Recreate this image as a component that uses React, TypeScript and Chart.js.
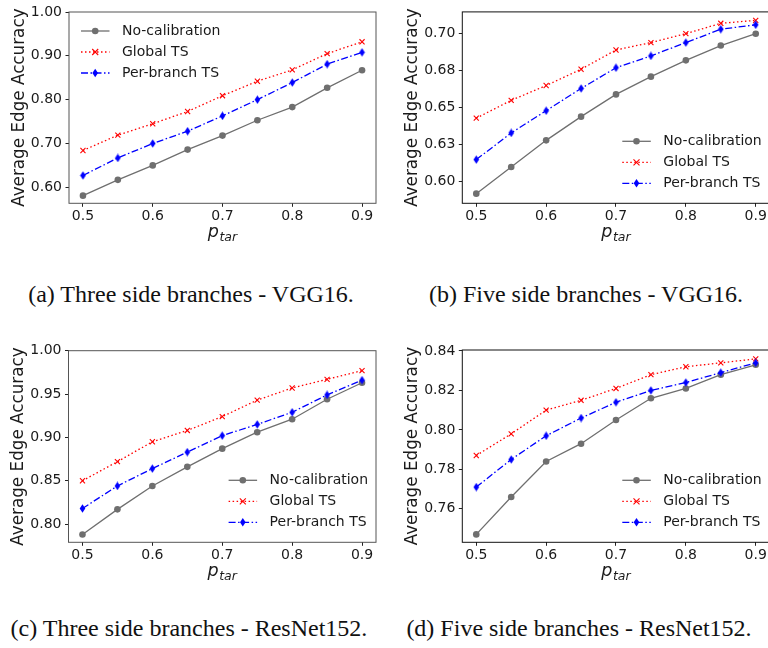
import React, { useEffect, useRef } from 'react';
import { Chart, registerables } from 'chart.js';
Chart.register(...registerables);

// ---------- data ----------
const pTar = [0.5, 0.55, 0.6, 0.65, 0.7, 0.75, 0.8, 0.85, 0.9];
const xTickValues = [0.5, 0.6, 0.7, 0.8, 0.9];
const xTickLabels = ['0.5', '0.6', '0.7', '0.8', '0.9'];
const seriesNames = ['No-calibration', 'Global TS', 'Per-branch TS'];
const yAxisTitle = 'Average Edge Accuracy';

// (a) Three side branches - VGG16
const vgg3NoCal = [0.581, 0.617, 0.650, 0.686, 0.718, 0.753, 0.783, 0.827, 0.867];
const vgg3Global = [0.684, 0.719, 0.745, 0.773, 0.809, 0.842, 0.868, 0.905, 0.932];
const vgg3PerBranch = [0.627, 0.667, 0.700, 0.728, 0.763, 0.800, 0.839, 0.881, 0.908];
const vgg3YTicks = [0.6, 0.7, 0.8, 0.9, 1.0];
const vgg3YLabels = ['0.60', '0.70', '0.80', '0.90', '1.00'];

// (b) Five side branches - VGG16
const vgg5NoCal = [0.592, 0.610, 0.628, 0.644, 0.659, 0.671, 0.682, 0.692, 0.700];
const vgg5Global = [0.643, 0.655, 0.665, 0.676, 0.689, 0.694, 0.700, 0.707, 0.709];
const vgg5PerBranch = [0.615, 0.633, 0.648, 0.663, 0.677, 0.685, 0.694, 0.703, 0.706];
const vgg5YTicks = [0.6, 0.625, 0.65, 0.675, 0.7];
const vgg5YLabels = ['0.60', '0.63', '0.65', '0.68', '0.70'];

// (c) Three side branches - ResNet152
const res3NoCal = [0.788, 0.817, 0.844, 0.866, 0.887, 0.906, 0.921, 0.944, 0.963];
const res3Global = [0.850, 0.872, 0.895, 0.908, 0.924, 0.943, 0.957, 0.967, 0.977];
const res3PerBranch = [0.818, 0.844, 0.864, 0.883, 0.902, 0.915, 0.929, 0.949, 0.966];
const res3YTicks = [0.8, 0.85, 0.9, 0.95, 1.0];
const res3YLabels = ['0.80', '0.85', '0.90', '0.95', '1.00'];

// (d) Five side branches - ResNet152
const res5NoCal = [0.747, 0.766, 0.784, 0.793, 0.805, 0.816, 0.821, 0.828, 0.833];
const res5Global = [0.787, 0.798, 0.810, 0.815, 0.821, 0.828, 0.832, 0.834, 0.836];
const res5PerBranch = [0.771, 0.785, 0.797, 0.806, 0.814, 0.820, 0.824, 0.829, 0.834];
const res5YTicks = [0.76, 0.78, 0.8, 0.82, 0.84];
const res5YLabels = ['0.76', '0.78', '0.80', '0.82', '0.84'];

const captions = [
  '(a) Three side branches - VGG16.',
  '(b) Five side branches - VGG16.',
  '(c) Three side branches - ResNet152.',
  '(d) Five side branches - ResNet152.',
];

// ---------- styling / layout ----------
const GREY = '#6f6f6f';
const RED = '#ff0000';
const BLUE = '#0000ff';
const TEXT = '#1a1a1a';
const SANS = '"DejaVu Sans", sans-serif';

type Panel = {
  left: number; top: number; width: number; height: number;
  area: { l: number; t: number; r: number; b: number };
  yMin: number; yMax: number; yTicks: number[]; yLabels: string[];
  series: number[][]; legend: 'ul' | 'lr'; frame: string;
};

const panels: Panel[] = [
  { left: 0, top: 0, width: 384, height: 260, area: { l: 69, t: 12, r: 376, b: 203.3 },
    yMin: 0.5635, yMax: 1.0, yTicks: vgg3YTicks, yLabels: vgg3YLabels,
    series: [vgg3NoCal, vgg3Global, vgg3PerBranch], legend: 'ul', frame: '#555' },
  { left: 384, top: 0, width: 400, height: 260, area: { l: 78.3, t: 6.7, r: 385.7, b: 203.3 },
    yMin: 0.5855, yMax: 0.7147, yTicks: vgg5YTicks, yLabels: vgg5YLabels,
    series: [vgg5NoCal, vgg5Global, vgg5PerBranch], legend: 'lr', frame: '#111' },
  { left: 0, top: 330, width: 384, height: 260, area: { l: 68.5, t: 20.7, r: 376, b: 212.3 },
    yMin: 0.779, yMax: 1.0, yTicks: res3YTicks, yLabels: res3YLabels,
    series: [res3NoCal, res3Global, res3PerBranch], legend: 'lr', frame: '#555' },
  { left: 384, top: 330, width: 400, height: 260, area: { l: 78.3, t: 20, r: 385.7, b: 212.3 },
    yMin: 0.743, yMax: 0.8405, yTicks: res5YTicks, yLabels: res5YLabels,
    series: [res5NoCal, res5Global, res5PerBranch], legend: 'lr', frame: '#111' },
];

const captionPos = [
  { cx: 191, top: 281 },
  { cx: 586, top: 281 },
  { cx: 189, top: 615 },
  { cx: 579, top: 615 },
];

function makeThinDiamond(): HTMLCanvasElement {
  const c = document.createElement('canvas');
  c.width = 7; c.height = 9;
  const ctx = c.getContext('2d')!;
  ctx.fillStyle = BLUE;
  ctx.beginPath();
  ctx.moveTo(3.5, 0.3);
  ctx.lineTo(6.3, 4.5);
  ctx.lineTo(3.5, 8.7);
  ctx.lineTo(0.7, 4.5);
  ctx.closePath();
  ctx.fill();
  return c;
}

function drawMarker(ctx: CanvasRenderingContext2D, kind: number, x: number, y: number) {
  ctx.save();
  ctx.setLineDash([]);
  if (kind === 0) {
    ctx.fillStyle = GREY;
    ctx.beginPath();
    ctx.arc(x, y, 3.3, 0, Math.PI * 2);
    ctx.fill();
  } else if (kind === 1) {
    ctx.strokeStyle = RED;
    ctx.lineWidth = 1.1;
    const r = 3;
    ctx.beginPath();
    ctx.moveTo(x - r, y - r); ctx.lineTo(x + r, y + r);
    ctx.moveTo(x + r, y - r); ctx.lineTo(x - r, y + r);
    ctx.stroke();
  } else {
    ctx.fillStyle = BLUE;
    ctx.beginPath();
    ctx.moveTo(x, y - 4.2);
    ctx.lineTo(x + 2.8, y);
    ctx.lineTo(x, y + 4.2);
    ctx.lineTo(x - 2.8, y);
    ctx.closePath();
    ctx.fill();
  }
  ctx.restore();
}

const dashes = [[] as number[], [1.5, 2.5], [7, 2.5, 1.5, 2.5]];
const colors = [GREY, RED, BLUE];

function PanelChart({ p }: { p: Panel }) {
  const ref = useRef<HTMLCanvasElement | null>(null);
  useEffect(() => {
    const canvas = ref.current!;
    const diamond = makeThinDiamond();
    const decor = {
      id: 'decor',
      afterDatasetsDraw(chart: any) {
        const { ctx, chartArea: a } = chart;
        ctx.save();
        // frame
        ctx.strokeStyle = p.frame;
        ctx.lineWidth = 1;
        ctx.setLineDash([]);
        ctx.strokeRect(a.left, a.top, a.right - a.left, a.bottom - a.top);
        // legend
        let x0: number, y0: number;
        if (p.legend === 'ul') { x0 = a.left + 12; y0 = a.top + 19; }
        else { x0 = a.right - 147.4; y0 = a.bottom - 20 - 42; }
        ctx.font = `14px ${SANS}`;
        ctx.textBaseline = 'middle';
        ctx.textAlign = 'left';
        for (let i = 0; i < 3; i++) {
          const y = y0 + i * 21;
          ctx.strokeStyle = colors[i];
          ctx.lineWidth = 1.3;
          ctx.setLineDash(dashes[i]);
          ctx.beginPath();
          ctx.moveTo(x0, y); ctx.lineTo(x0 + 28.5, y);
          ctx.stroke();
          drawMarker(ctx, i, x0 + 14.2, y);
          ctx.fillStyle = TEXT;
          ctx.fillText(seriesNames[i], x0 + 41, y + 0.5);
        }
        ctx.restore();
      },
      afterDraw(chart: any) {
        const { ctx, chartArea: a } = chart;
        ctx.save();
        ctx.fillStyle = TEXT;
        // y title
        ctx.translate(a.left - 45.5, (a.top + a.bottom) / 2);
        ctx.rotate(-Math.PI / 2);
        ctx.font = `16.8px ${SANS}`;
        ctx.textAlign = 'center';
        ctx.textBaseline = 'alphabetic';
        ctx.fillText(yAxisTitle, 0, 0);
        ctx.restore();
        // x title p_tar
        ctx.save();
        ctx.fillStyle = TEXT;
        ctx.textAlign = 'left';
        ctx.textBaseline = 'alphabetic';
        const f1 = `italic 17.5px ${SANS}`;
        const f2 = `italic 12.5px ${SANS}`;
        ctx.font = f1;
        const w1 = ctx.measureText('p').width;
        ctx.font = f2;
        const w2 = ctx.measureText('tar').width;
        const cx = (a.left + a.right) / 2;
        const sx = cx - (w1 + w2 + 0.5) / 2;
        ctx.font = f1;
        ctx.fillText('p', sx, a.bottom + 34);
        ctx.font = f2;
        ctx.fillText('tar', sx + w1 + 0.5, a.bottom + 38);
        ctx.restore();
      },
    };
    const datasets = p.series.map((vals, i) => ({
      label: seriesNames[i],
      data: vals.map((v, j) => ({ x: pTar[j], y: v })),
      borderColor: colors[i],
      backgroundColor: colors[i],
      borderWidth: 1.3,
      borderDash: dashes[i],
      pointStyle: i === 0 ? 'circle' : i === 1 ? 'crossRot' : (diamond as any),
      pointRadius: i === 0 ? 3.3 : i === 1 ? 3.6 : 4.5,
      pointBorderWidth: i === 1 ? 1.1 : 0,
      pointBorderColor: colors[i],
      pointBackgroundColor: colors[i],
      tension: 0,
      order: 2 - i,
    }));
    const chart = new Chart(canvas, {
      type: 'line',
      data: { datasets },
      plugins: [decor],
      options: {
        animation: false,
        responsive: false,
        maintainAspectRatio: false,
        devicePixelRatio: 1,
        layout: { padding: { left: 0, top: p.area.t, right: p.width - p.area.r, bottom: 0 } },
        plugins: { legend: { display: false }, tooltip: { enabled: false }, title: { display: false } },
        scales: {
          x: {
            type: 'linear',
            min: 0.48, max: 0.92,
            afterFit: (s: any) => { s.height = p.height - p.area.b; },
            afterBuildTicks: (s: any) => { s.ticks = xTickValues.map((v) => ({ value: v })); },
            ticks: {
              autoSkip: false, maxRotation: 0, padding: 1.5,
              color: TEXT, font: { family: SANS, size: 14 },
              callback: (_v: any, i: number) => xTickLabels[i],
            },
            grid: { display: true, drawOnChartArea: false, drawTicks: true, tickLength: 3.5, color: '#222', lineWidth: 1 },
            border: { display: false },
          },
          y: {
            type: 'linear',
            min: p.yMin, max: p.yMax,
            afterFit: (s: any) => { s.width = p.area.l; },
            afterBuildTicks: (s: any) => { s.ticks = p.yTicks.map((v) => ({ value: v })); },
            ticks: {
              autoSkip: false, padding: 3.5,
              color: TEXT, font: { family: SANS, size: 14 },
              callback: (_v: any, i: number) => p.yLabels[i],
            },
            grid: { display: true, drawOnChartArea: false, drawTicks: true, tickLength: 3.5, color: '#222', lineWidth: 1 },
            border: { display: false },
          },
        },
      } as any,
    });
    return () => chart.destroy();
  }, [p]);
  return (
    <canvas
      ref={ref}
      width={p.width}
      height={p.height}
      style={{ position: 'absolute', left: p.left, top: p.top, width: p.width, height: p.height }}
    />
  );
}

export default function App() {
  return (
    <div style={{ position: 'fixed', left: 0, top: 0, width: 768, height: 648, overflow: 'hidden', background: '#fff' }}>
      {panels.map((p, i) => <PanelChart key={i} p={p} />)}
      {captions.map((c, i) => (
        <div
          key={'c' + i}
          style={{
            position: 'absolute', left: captionPos[i].cx - 200, top: captionPos[i].top, width: 400,
            textAlign: 'center', fontFamily: '"Liberation Serif", serif', fontSize: 24, lineHeight: '26px',
            color: '#111', whiteSpace: 'nowrap',
          }}
        >
          {c}
        </div>
      ))}
    </div>
  );
}
